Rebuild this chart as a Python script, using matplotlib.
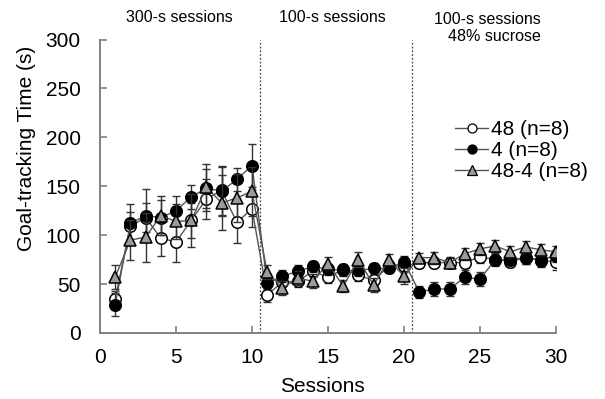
import matplotlib
matplotlib.use("Agg")
import matplotlib.pyplot as plt
from matplotlib.lines import Line2D
import numpy as np

plt.rcParams['font.family'] = ['Liberation Sans', 'DejaVu Sans']

sessions = list(range(1, 31))

# Mean goal-tracking time (s) per group
g48 = [35, 109, 118, 97, 93, 115, 137, 146, 113, 127,
       39, 52, 53, 63, 57, 65, 59, 54, 68, 68,
       72, 72, 72, 72, 78, 75, 73, 77, 74, 73]
g4 = [29, 112, 120, 118, 125, 139, 148, 145, 157, 171,
      51, 58, 63, 68, 65, 64, 64, 66, 66, 73,
      42, 45, 45, 57, 55, 75, 75, 77, 75, 79]
g48_4 = [57, 95, 98, 120, 114, 115, 149, 133, 138, 145,
         62, 46, 56, 53, 71, 48, 75, 49, 75, 58,
         77, 77, 72, 81, 86, 89, 83, 88, 85, 83]

# SEM per group
e48 = [8, 15, 15, 18, 20, 18, 20, 25, 21, 19,
       7, 7, 6, 6, 6, 6, 6, 6, 6, 6,
       6, 6, 5, 6, 6, 6, 6, 6, 7, 9]
e4 = [12, 20, 27, 18, 15, 12, 20, 25, 12, 22,
      6, 6, 6, 6, 6, 6, 6, 6, 5, 6,
      6, 7, 7, 7, 7, 7, 6, 6, 6, 6]
e48_4 = [12, 20, 25, 20, 18, 27, 24, 28, 25, 25,
         7, 7, 7, 7, 7, 6, 8, 7, 6, 8,
         5, 6, 6, 6, 6, 6, 6, 6, 6, 6]

labels = ['48 (n=8)', '4 (n=8)', '48-4 (n=8)']
phase_titles = ['300-s sessions', '100-s sessions', '100-s sessions\n48% sucrose']
phase_breaks = [10.5, 20.5]

W, H = 605, 399
fig = plt.figure(figsize=(W / 100, H / 100), dpi=100)
ax = fig.add_axes([100 / W, 1 - 333 / H, (556 - 100) / W, (333 - 39.5) / H])

line_col = '#555555'
styles = [
    dict(marker='o', mfc='white', mec='black', z=3),
    dict(marker='o', mfc='black', mec='black', z=4),
    dict(marker='^', mfc='#9a9a9a', mec='black', z=5),
]
series = [(g48, e48), (g4, e4), (g48_4, e48_4)]

for (y, e), st in zip(series, styles):
    x = np.array(sessions)
    y = np.array(y, dtype=float)
    e = np.array(e, dtype=float)
    # split lines at phase boundaries? The groups are connected across all sessions
    ax.errorbar(x, y, yerr=e, fmt='none', ecolor='#333333', elinewidth=1.0,
                capsize=2.6, capthick=1.0, zorder=st['z'] - 0.5)
    ax.plot(x, y, color=line_col, lw=1.0, zorder=st['z'] - 0.4)
    ax.plot(x, y, linestyle='none', marker=st['marker'], ms=8.3 if st['marker'] == 'o' else 9,
            mfc=st['mfc'], mec=st['mec'], mew=1.1, zorder=st['z'])

for xb in phase_breaks:
    ax.plot([xb, xb], [0, 300], color='#444444', lw=0.9, ls=(0, (1.5, 1.5)), zorder=1)

ax.set_xlim(0, 30)
ax.set_ylim(0, 300)
ax.set_xticks([0, 5, 10, 15, 20, 25, 30])
ax.set_yticks([0, 50, 100, 150, 200, 250, 300])
ax.spines['top'].set_visible(False)
ax.spines['right'].set_visible(False)
for s in ('left', 'bottom'):
    ax.spines[s].set_color('#808080')
    ax.spines[s].set_linewidth(1.4)
ax.tick_params(direction='in', length=5, width=1.2, color='#808080',
               labelsize=15, labelcolor='black')
ax.tick_params(axis='y', pad=14)
ax.tick_params(axis='x', pad=11)

fig.text(27 / W, 1 - 148 / H, 'Goal-tracking Time (s)', rotation=90,
         ha='center', va='center', fontsize=15)
fig.text(322 / W, 1 - 387 / H, 'Sessions', ha='center', va='center', fontsize=15)

fig.text(179 / W, 1 - 18 / H, phase_titles[0], ha='center', va='center', fontsize=11.5)
fig.text(332 / W, 1 - 18 / H, phase_titles[1], ha='center', va='center', fontsize=11.5)
fig.text(487 / W, 1 - 28 / H, phase_titles[2], ha='center', va='center',
         fontsize=11.5, linespacing=1.1, multialignment='right')

handles = []
for st in styles:
    handles.append(Line2D([0], [0], color=line_col, lw=1.0, marker=st['marker'],
                          ms=6.5, mfc=st['mfc'], mec=st['mec'], mew=0.9))
fig.legend(handles, labels, loc='upper left', bbox_to_anchor=(455 / W, 1 - 120 / H),
           frameon=False, fontsize=15, handlelength=1.6, handletextpad=0.15,
           labelspacing=0.1, borderpad=0, borderaxespad=0)

fig.savefig('out.png', dpi=100)
